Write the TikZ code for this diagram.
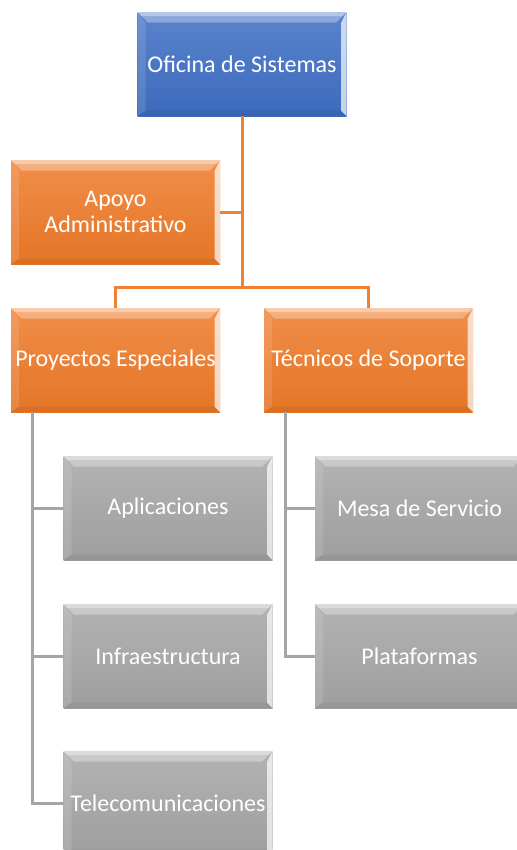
\documentclass[tikz,border=0pt]{standalone}
\usepackage{fontspec}
\setmainfont{Carlito}
\usetikzlibrary{calc}

\definecolor{officeBlue}{RGB}{62,110,196}
\definecolor{officeOrange}{RGB}{238,122,40}
\definecolor{officeGray}{RGB}{165,165,165}

\begin{document}
\begin{tikzpicture}
[x=0.75pt,y=-0.75pt,
  unitBox/.style={rectangle,inner sep=0pt,align=center,text=white,
    minimum width=156.75pt,minimum height=78pt,
    top color=#1!85!white,bottom color=#1!96!black,
    font=\fontsize{18}{19.5}\selectfont,
    path picture={
      \coordinate (nw) at (path picture bounding box.north west);
      \coordinate (ne) at (path picture bounding box.north east);
      \coordinate (sw) at (path picture bounding box.south west);
      \coordinate (se) at (path picture bounding box.south east);
      % bevel: top, right, left, bottom
      \fill[white,opacity=.3] (nw) -- (ne) -- ($(ne)+(-8pt,-8pt)$) -- ($(nw)+(8pt,-8pt)$) -- cycle;
      \fill[white,opacity=.35] (nw) -- (ne) -- ($(ne)+(-3pt,-3pt)$) -- ($(nw)+(3pt,-3pt)$) -- cycle;
      \fill[white,opacity=.7] (ne) -- (se) -- ($(se)+(-4pt,4pt)$) -- ($(ne)+(-4pt,-8pt)$) -- cycle;
      \fill[white,opacity=.12] (nw) -- (sw) -- ($(sw)+(6pt,4pt)$) -- ($(nw)+(6pt,-8pt)$) -- cycle;
      \fill[black,opacity=.05] (sw) -- (se) -- ($(se)+(-4pt,4pt)$) -- ($(sw)+(6pt,4pt)$) -- cycle;
    }},
  orangeLink/.style={draw=officeOrange!95!white,line width=2.25pt},
  grayLink/.style={draw=officeGray,line width=2.25pt}]
\clip (0,0) rectangle (517,850);
%% boxes
\node (ofi) at (242,64) [unitBox=officeBlue] {Oficina de Sistemas};
\foreach \nodename/\x/\y/\txt in {
  apoyo/115.5/212/{Apoyo\\Administrativo},
  proy/115.5/360/{Proyectos Especiales},
  tec/368.5/360/{Técnicos de Soporte}}
{
  \node (\nodename) at (\x,\y) [unitBox=officeOrange] {\txt};
}
\foreach \nodename/\x/\y/\txt in {
  apl/168/508/Aplicaciones, infra/168/656/Infraestructura,
  tele/168/803/Telecomunicaciones,
  mesa/419.5/508/{Mesa de Servicio}, plat/419.5/656/Plataformas}
{
  \node (\nodename) at (\x,\y) [unitBox=officeGray] {\txt};
}
%% connectors
\coordinate (bus) at (242,287);
\draw[orangeLink] (ofi.south) -- (bus);
\draw[orangeLink] (apoyo.east) -- (apoyo.east -| bus);
\draw[orangeLink] (proy.north) |- (bus) -| (tec.north);
\foreach \child in {apl,infra,tele}
  \draw[grayLink] ([xshift=16.5pt]proy.south west) |- (\child.west);
\foreach \child in {mesa,plat}
  \draw[grayLink] ([xshift=16pt]tec.south west) |- (\child.west);
\end{tikzpicture}
\end{document}
